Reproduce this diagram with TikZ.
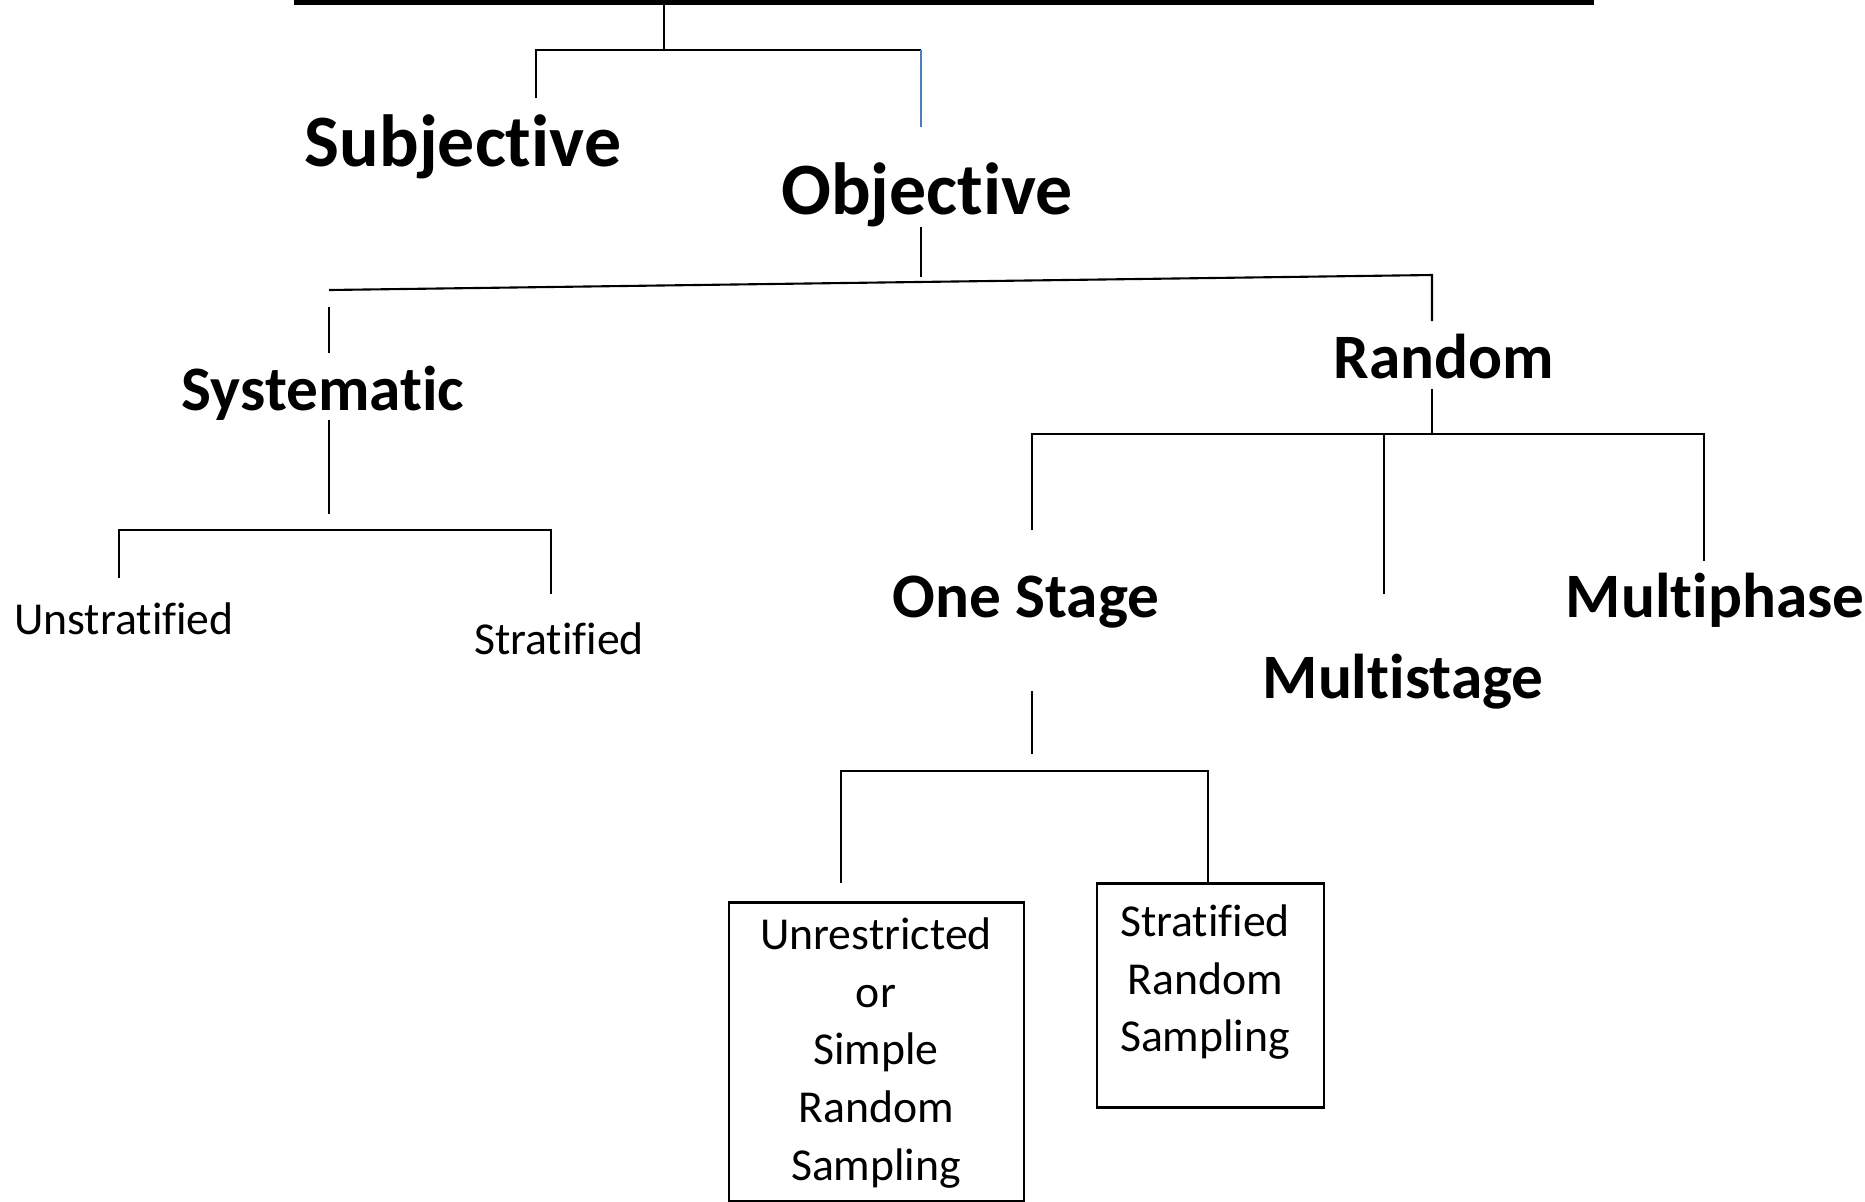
\documentclass[tikz,border=0pt]{standalone}
\usepackage{fontspec}
\setmainfont{Carlito}[Ligatures=NoCommon]
\usepackage{tikz}
\definecolor{linkblue}{HTML}{4A7EBB}

\tikzset{
  bigbold/.style={font=\fontsize{21}{25}\selectfont\bfseries, inner sep=0pt, anchor=base},
  midbold/.style={font=\fontsize{18}{22}\selectfont\bfseries, inner sep=0pt, anchor=base},
  plain/.style={font=\fontsize{13}{16.4}\selectfont, inner sep=0pt, anchor=base},
  boxtext/.style={font=\fontsize{13}{16.4}\selectfont, align=center, inner sep=0pt, anchor=north},
  link/.style={line width=0.6pt},
  frame/.style={line width=0.85pt}
}

\begin{document}
\begin{tikzpicture}[x=0.01cm,y=-0.01cm]
\useasboundingbox (0,0) rectangle (1865,1202);

% Title rule
\coordinate (ruleL) at (294,2.5);
\coordinate (ruleR) at (1594,2.5);
\draw[line width=1.45pt] (ruleL) -- (ruleR);

% Labels
\node[bigbold] (subj) at (463,166) {Subjective};
\node[bigbold] (obj) at (927,214) {Objective};
\node[midbold] (sys) at (323,410) {Systematic};
\node[midbold] (rand) at (1444,378) {Random};
\node[midbold] (one) at (1026,617) {One Stage};
\node[midbold] (mstage) at (1403,698) {Multistage};
\node[midbold] (mphase) at (1715,617) {Multiphase};
\node[plain] (unstrat) at (124,634) {Unstratified};
\node[plain] (strat) at (559,654) {Stratified};

% Boxes
\draw[frame] (729,902) rectangle (1024,1201);
\node[boxtext] (srs) at (876,917) {Unrestricted\\or\\Simple\\Random\\Sampling};
\draw[frame] (1097,883) rectangle (1324,1107);
\node[boxtext] (strs) at (1205,904) {Stratified\\Random\\Sampling};

% Subjective / Objective
\coordinate (top) at (664,2.5);
\coordinate (fork1) at (664,50);
\coordinate (subjtop) at (536,98);
\coordinate (objcorner) at (921,50);
\coordinate (objtop) at (921,127);
\draw[link] (top) -- (fork1);
\draw[link] (subjtop) |- (objcorner);
\draw[link,linkblue] (objcorner) -- (objtop);

% Systematic / Random
\coordinate (objbot) at (921,227);
\coordinate (objfoot) at (921,277);
\coordinate (barL) at (329,290);
\coordinate (barR) at (1432,275);
\coordinate (randtop) at (1432,321);
\coordinate (systop) at (329,307);
\coordinate (sysstub) at (329,353);
\draw[link] (objbot) -- (objfoot);
\draw[link] (barL) -- (barR) -- (randtop);
\draw[link] (systop) -- (sysstub);

% Random fork
\coordinate (randbot) at (1432,389);
\coordinate (fork2) at (1432,434);
\coordinate (onetop) at (1032,530);
\coordinate (mstagetop) at (1384,594);
\coordinate (mphasetop) at (1704,561);
\draw[link] (randbot) -- (fork2);
\draw[link] (onetop) |- (mphasetop |- fork2) -- (mphasetop);
\draw[link] (mstagetop |- fork2) -- (mstagetop);

% Systematic fork
\coordinate (sysbot) at (329,420);
\coordinate (sysstub2) at (329,514);
\coordinate (sbarL) at (119,530);
\coordinate (sbarR) at (551,530);
\coordinate (unstrattop) at (119,578);
\coordinate (strattop) at (551,594);
\draw[link] (sysbot) -- (sysstub2);
\draw[link] (unstrattop) -- (sbarL) -- (sbarR) -- (strattop);

% One Stage fork
\coordinate (onebot) at (1032,691);
\coordinate (onestub) at (1032,754);
\coordinate (obarL) at (841,771);
\coordinate (obarR) at (1208,771);
\coordinate (srstop) at (841,883);
\coordinate (strstop) at (1208,883);
\draw[link] (onebot) -- (onestub);
\draw[link] (srstop) -- (obarL) -- (obarR) -- (strstop);
\end{tikzpicture}
\end{document}
